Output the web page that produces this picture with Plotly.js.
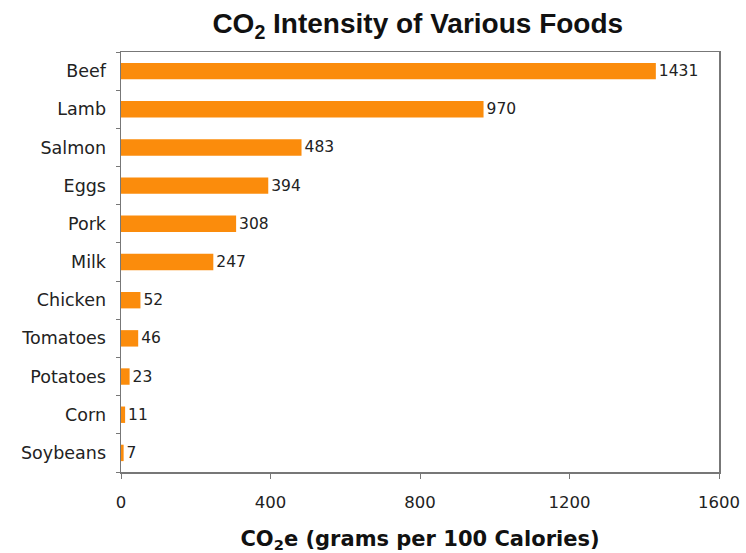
<!DOCTYPE html>
<html>
<head>
<meta charset="utf-8">
<script src="https://cdn.plot.ly/plotly-3.0.1.min.js"></script>
<style>html,body{margin:0;padding:0;background:#fff;}#chart{width:746px;height:553px;}</style>
</head>
<body>
<div id="chart"></div>
<script>
const foods = ["Beef","Lamb","Salmon","Eggs","Pork","Milk","Chicken","Tomatoes","Potatoes","Corn","Soybeans"];
const co2e = [1431,970,483,394,308,247,52,46,23,11,7];
const xTicks = [0,400,800,1200,1600];

const trace = {
  type: 'bar',
  orientation: 'h',
  y: foods,
  x: co2e,
  text: co2e.map(String),
  textposition: 'outside',
  constraintext: 'none',
  cliponaxis: false,
  textfont: {family: 'DejaVu Sans, Verdana, sans-serif', size: 15.5, color: '#222'},
  marker: {color: '#fb8c0c', line: {width: 0}},
  hoverinfo: 'none'
};

const layout = {
  width: 746, height: 553,
  margin: {l: 121, r: 27, t: 52, b: 81},
  paper_bgcolor: '#fff', plot_bgcolor: '#fff',
  showlegend: false,
  bargap: 0.57,
  title: {
    text: '<b>CO<sub>2</sub> Intensity of Various Foods</b>',
    font: {family: 'Liberation Sans, Arial, sans-serif', size: 28, color: '#111'},
    xref: 'container', x: 0.56, xanchor: 'center',
    yref: 'container', y: 0.958, yanchor: 'middle'
  },
  xaxis: {
    range: [0, 1600],
    tickvals: xTicks,
    ticktext: xTicks.map(String),
    ticks: 'outside', ticklen: 5, tickcolor: '#777',
    showgrid: false, zeroline: false,
    showline: true, linecolor: '#777', linewidth: 1.5, mirror: true,
    tickfont: {family: 'DejaVu Sans, Verdana, sans-serif', size: 16.5, color: '#222'},
    ticklabelstandoff: 10,
    title: {text: '<b>CO<sub>2</sub>e (grams per 100 Calories)</b>',
            font: {family: 'DejaVu Sans, Verdana, sans-serif', size: 21, color: '#111'},
            standoff: 22}
  },
  yaxis: {
    categoryorder: 'array', categoryarray: foods.slice().reverse(),
    autorange: true,
    ticks: 'outside', ticklen: 4, tickcolor: '#777', tickson: 'boundaries',
    showgrid: false, zeroline: false,
    showline: true, linecolor: '#777', linewidth: 1.5, mirror: true,
    tickfont: {family: 'DejaVu Sans, Verdana, sans-serif', size: 17.5, color: '#222'},
    ticklabelstandoff: 10
  }
};

Plotly.newPlot('chart', [trace], layout, {displayModeBar: false, staticPlot: true});
</script>
</body>
</html>
